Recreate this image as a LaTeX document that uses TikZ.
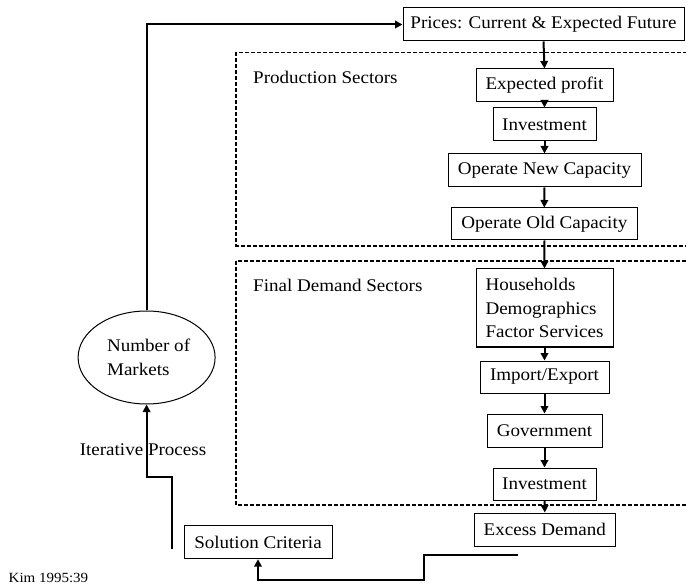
\documentclass[tikz,border=0pt]{standalone}
\usepackage{fontspec}
\setmainfont{Liberation Serif}[FakeStretch=1.07]
\usetikzlibrary{arrows.meta,shapes.geometric}
\begin{document}
\begin{tikzpicture}[x=1pt,y=-1pt,
 box/.style={draw,line width=1pt,inner sep=0pt,font=\fontsize{17.8}{23.5}\selectfont},
 conn/.style={line width=2pt,-{Triangle[length=7.5pt,width=7.5pt]}},
 sector/.style={draw,line width=1.8pt,dash pattern=on 4pt off 2pt},
 lbl/.style={anchor=west,inner sep=0pt,font=\fontsize{17.8}{23.5}\selectfont}]
\clip (0,0) rectangle (686,588);
\fill[white] (0,0) rectangle (686,588);
% sector frames
\draw[sector] (236,52.5) rectangle (700,246);
\draw[sector] (236,261) rectangle (700,505);
\node[lbl] (ps) at (253,77) {Production Sectors};
\node[lbl] (fd) at (253,285) {Final Demand Sectors};
% boxes
\node[box,minimum width=281pt,minimum height=33pt] (prices) at (543.5,24.5) {Prices: Current \& Expected Future};
\node[box,minimum width=137pt,minimum height=33pt] (ep) at (544.5,85.5) {Expected profit};
\node[box,minimum width=103pt,minimum height=33pt] (inv1) at (544.5,124.5) {Investment};
\node[box,minimum width=193pt,minimum height=33pt] (onc) at (544.5,170.5) {Operate New Capacity};
\node[box,minimum width=185.5pt,minimum height=32pt] (ooc) at (544.3,224) {Operate Old Capacity};
\node[box,minimum width=137pt,minimum height=78pt,align=left] (hh) at (544.5,308) {Households\\Demographics\\Factor Services};
\node[box,minimum width=129pt,minimum height=32pt] (ie) at (544.5,377) {Import/Export};
\node[box,minimum width=115pt,minimum height=33pt] (gov) at (544.5,430.5) {Government};
\node[box,minimum width=103pt,minimum height=32pt] (inv2) at (544.5,484) {Investment};
\node[box,minimum width=141.6pt,minimum height=33pt] (ed) at (544.8,529.5) {Excess Demand};
\node[box,minimum width=148pt,minimum height=33pt] (sc) at (258,542.2) {Solution Criteria};
\node[box,ellipse,minimum width=137pt,minimum height=93pt,align=left] (ell) at (146.6,357.5) {\hspace*{4pt}Number of\\\hspace*{4pt}Markets};
% vertical chain
\draw[conn] (prices.south) -- (ep.north);
\draw[conn] (ep.south) -- (inv1.north);
\draw[conn] (inv1.south) -- (onc.north);
\draw[conn] (onc.south) -- (ooc.north);
\draw[conn] (ooc.south) -- (hh.north);
\draw[conn] (hh.south) -- (ie.north);
\draw[conn] (ie.south) -- (gov.north);
\draw[conn] (gov.south) -- (inv2.north);
\draw[conn] (inv2.south) -- (ed.north);
% loop
\draw[conn] (ell.north) |- (prices.west);
\coordinate (s1) at (171.5,549);
\draw[conn] (s1) -- (171.5,477) -- (146.6,477) -- (ell.south);
\coordinate (e1) at (518.4,555);
\draw[conn] (e1) -- (424.4,555) -- (424.4,580) -| (sc.south);
\node[lbl] (ip) at (79.6,450) {Iterative Process};
\node[anchor=west,inner sep=0pt,font=\fontsize{14}{16}\selectfont] (kim) at (8.5,578) {Kim 1995:39};
\end{tikzpicture}
\end{document}
